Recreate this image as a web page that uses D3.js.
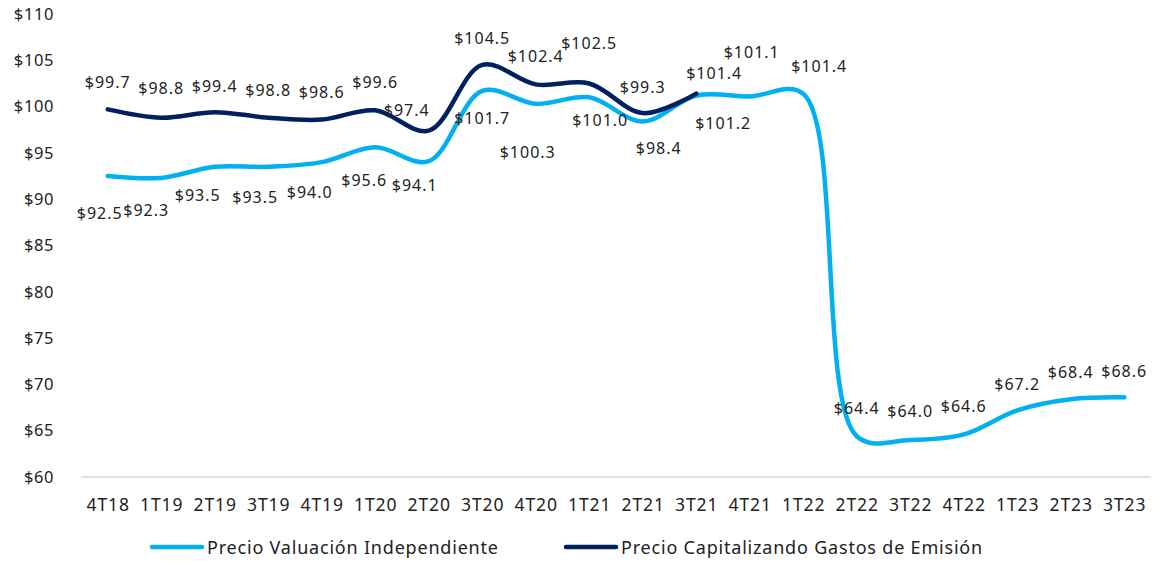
<!DOCTYPE html>
<html lang="es">
<head>
<meta charset="UTF-8">
<title>Precio Valuación</title>
<script src="https://d3js.org/d3.v7.min.js"></script>
<style>
    body { margin: 0; background: #fff; }
    text { font-family: 'Noto Sans', sans-serif; fill: #222; }
</style>
</head>
<body>
<div id="chart"></div>
<script>
    // Data
    const quarters = ["4T18","1T19","2T19","3T19","4T19","1T20","2T20","3T20","4T20","1T21",
                      "2T21","3T21","4T21","1T22","2T22","3T22","4T22","1T23","2T23","3T23"];
    const valuacion = [92.5, 92.3, 93.5, 93.5, 94.0, 95.6, 94.1, 101.7, 100.3, 101.0,
                       98.4, 101.2, 101.1, 101.4, 64.4, 64.0, 64.6, 67.2, 68.4, 68.6];
    const capitalizando = [99.7, 98.8, 99.4, 98.8, 98.6, 99.6, 97.4, 104.5, 102.4, 102.5, 99.3, 101.4];
    const yTicks = [60, 65, 70, 75, 80, 85, 90, 95, 100, 105, 110];
    const seriesNames = ["Precio Valuación Independiente", "Precio Capitalizando Gastos de Emisión"];

    // label nudges (px) relative to each point, as placed in the original
    const nudgeValuacion = [[-8,37],[-15,32],[-17,28],[-13,30],[-12,30],[-11,33],[-14,24],[0,27],[-8,48],[11,23],
                            [16,27],[27,28],[2,-44],[16,-28],[0,-28],[0,-29],[0,-28],[0,-26],[0,-27],[0,-26]];
    const nudgeCapital = [[0,-27],[0,-30],[0,-26],[0,-28],[0,-28],[0,-28],[-22,-21],[0,-27],[0,-28],[0,-40],[0,-26],[18,-21]];

    const W = 1158, H = 561;
    const plotLeft = 81, plotRight = 1151, plotTop = 14, plotBottom = 477;

    const svg = d3.select("#chart").append("svg")
        .attr("width", W).attr("height", H);

    const x = d3.scalePoint().domain(quarters).range([plotLeft, plotRight]).padding(0.5);
    const y = d3.scaleLinear().domain([60, 110]).range([plotBottom, plotTop]);

    // y axis labels (no line)
    const yAxis = d3.axisLeft(y).tickValues(yTicks).tickSize(0).tickPadding(0)
        .tickFormat(d => "$" + d);
    svg.append("g").attr("transform", "translate(54,0)").call(yAxis)
        .call(g => g.select(".domain").remove())
        .selectAll("text").style("font-size", "16.5px").style("letter-spacing", "0.6px").attr("fill", "#222");

    // x axis
    const xAxis = d3.axisBottom(x).tickSize(0).tickPadding(22);
    svg.append("g").attr("transform", `translate(0,${plotBottom})`).call(xAxis)
        .call(g => g.select(".domain").attr("stroke", "#d9d9d9").attr("stroke-width", 1.5)
            .attr("d", `M${plotLeft},0H${plotRight}`))
        .selectAll("text").style("font-size", "17.5px").style("letter-spacing", "1px").attr("fill", "#222");

    const line = d3.line()
        .x((d, i) => x(quarters[i]))
        .y(d => y(d))
        .curve(d3.curveCatmullRom.alpha(0.5));

    svg.append("path").datum(valuacion)
        .attr("d", line).attr("fill", "none")
        .attr("stroke", "#00b0f0").attr("stroke-width", 4.5).attr("stroke-linecap", "round");

    svg.append("path").datum(capitalizando)
        .attr("d", line).attr("fill", "none")
        .attr("stroke", "#002060").attr("stroke-width", 4.5).attr("stroke-linecap", "round");

    function labels(values, nudges) {
        svg.append("g").selectAll("text").data(values).join("text")
            .attr("x", (d, i) => x(quarters[i]) + nudges[i][0])
            .attr("y", (d, i) => y(d) + nudges[i][1])
            .attr("text-anchor", "middle")
            .attr("dominant-baseline", "central")
            .style("font-size", "16px")
            .style("letter-spacing", "1px")
            .text(d => "$" + d.toFixed(1));
    }
    labels(valuacion, nudgeValuacion);
    labels(capitalizando, nudgeCapital);

    // legend
    const legend = svg.append("g").attr("transform", "translate(0,547)");
    const legendItems = [
        { name: seriesNames[0], color: "#00b0f0", x: 152 },
        { name: seriesNames[1], color: "#002060", x: 566 }
    ];
    legendItems.forEach(it => {
        legend.append("line").attr("x1", it.x).attr("x2", it.x + 50)
            .attr("stroke", it.color).attr("stroke-width", 4.5).attr("stroke-linecap", "round");
        legend.append("text").attr("x", it.x + 55).attr("dominant-baseline", "central")
            .style("font-size", "18px").style("letter-spacing", "0.8px").text(it.name);
    });
</script>
</body>
</html>
